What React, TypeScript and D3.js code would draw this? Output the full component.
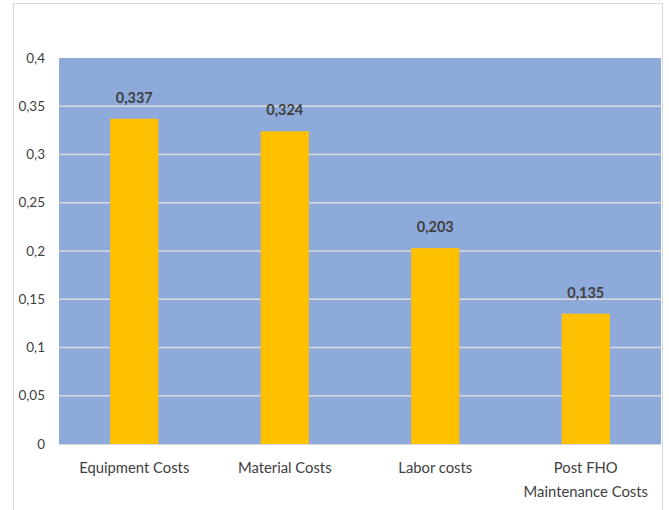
import React from "react";
import * as d3 from "d3";

const categories: string[][] = [
  ["Equipment Costs"],
  ["Material Costs"],
  ["Labor costs"],
  ["Post FHO", "Maintenance Costs"],
];
const values: number[] = [0.337, 0.324, 0.203, 0.135];
const valueLabels: string[] = ["0,337", "0,324", "0,203", "0,135"];
const yTicks: number[] = [0, 0.05, 0.1, 0.15, 0.2, 0.25, 0.3, 0.35, 0.4];

const W = 669;
const H = 510;
const plotLeft = 59;
const plotRight = 661;
const plotTop = 58;
const plotBottom = 444;
const FONT = "Lato, 'Open Sans', sans-serif";

const fmt = (v: number) => String(+v.toFixed(2)).replace(".", ",");

export default function App() {
  const x = d3
    .scaleBand<number>()
    .domain(values.map((_, i) => i))
    .range([plotLeft, plotRight])
    .padding(0);
  const y = d3.scaleLinear().domain([0, 0.4]).range([plotBottom, plotTop]);
  const barW = x.bandwidth() * 0.32;

  return (
    <svg
      width={W}
      height={H}
      style={{ position: "absolute", left: 0, top: 0, background: "#fff" }}
    >
      <rect x={13.5} y={3.5} width={649} height={H + 10} fill="#fff" stroke="#d9d9d9" strokeWidth={1} />
      <rect x={plotLeft} y={plotTop} width={plotRight - plotLeft} height={plotBottom - plotTop} fill="#8eaadb" />
      {yTicks.map((t) => (
        <g key={t}>
          {t > 0 && t < 0.4 && (
            <line x1={plotLeft} x2={plotRight} y1={y(t)} y2={y(t)} stroke="#d9d9d9" strokeWidth={1.5} />
          )}
          <text
            x={45}
            y={y(t)}
            dy="0.35em"
            textAnchor="end"
            fontFamily={FONT}
            fontSize={13.5}
            fill="#404040"
          >
            {fmt(t)}
          </text>
        </g>
      ))}
      <line x1={plotLeft} x2={plotRight} y1={plotBottom + 0.5} y2={plotBottom + 0.5} stroke="#d9d9d9" strokeWidth={1} />
      {values.map((v, i) => {
        const cx = (x(i) as number) + x.bandwidth() / 2;
        return (
          <g key={i}>
            <rect x={cx - barW / 2} y={y(v)} width={barW} height={plotBottom - y(v)} fill="#ffc000" />
            <text
              x={cx}
              y={y(v) - 21}
              dy="0.35em"
              textAnchor="middle"
              fontFamily={FONT}
              fontSize={14.5}
              fontWeight={700}
              fill="#404040"
            >
              {valueLabels[i]}
            </text>
            {categories[i].map((line, j) => (
              <text
                key={j}
                x={cx}
                y={468 + j * 24}
                dy="0.35em"
                textAnchor="middle"
                fontFamily={FONT}
                fontSize={14.8}
                fill="#404040"
              >
                {line}
              </text>
            ))}
          </g>
        );
      })}
    </svg>
  );
}
